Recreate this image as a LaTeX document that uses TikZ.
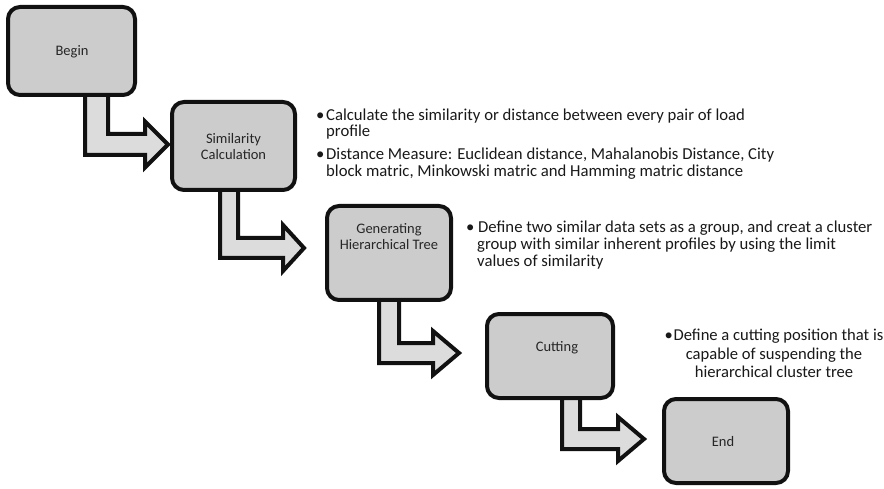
\documentclass[tikz,border=0pt]{standalone}
\usepackage{fontspec}
\setmainfont{Carlito}
\definecolor{boxgray}{HTML}{CCCCCC}
\definecolor{arrgray}{HTML}{DCDCDC}
\definecolor{ink}{HTML}{111111}
\begin{document}
\begin{tikzpicture}[x=1pt,y=-1pt,
  box/.style={draw=ink, line width=4pt, rounded corners=12pt, fill=boxgray, inner sep=0pt},
  arr/.style={draw=ink, line width=4pt, fill=arrgray, line join=miter},
  boxtxt/.style={font=\fontsize{14.5}{16}\selectfont, align=center, inner sep=0pt, text=black!85},
  bul/.style={align=left, inner sep=0pt, anchor=base west, text=black!90},
  bulc/.style={align=center, inner sep=0pt, anchor=base, text=black!90}]
\useasboundingbox (0,0) rectangle (884,489);
\fill[white] (0,0) rectangle (884,489);
% bent arrows
\draw[arr] (85,90) -- (85,155) -- (145,155) -- (145,167.5) -- (168,144.5) -- (145,121.5) -- (145,134) -- (108,134) -- (108,90) -- cycle;
\draw[arr] (220,185) -- (220,258) -- (283,258) -- (283,271) -- (304,248) -- (283,225) -- (283,238) -- (238,238) -- (238,185) -- cycle;
\draw[arr] (379,295) -- (379,363) -- (433,363) -- (433,375) -- (459,353) -- (433,331) -- (433,343) -- (399,343) -- (399,295) -- cycle;
\draw[arr] (562,393) -- (562,449) -- (618,449) -- (618,461) -- (644,439) -- (618,417) -- (618,429) -- (580,429) -- (580,393) -- cycle;
% boxes
\node[box, minimum width=127pt, minimum height=88pt] (begin) at (71.5,51) {};
\node[box, minimum width=123pt, minimum height=88pt] (sim) at (233.5,146) {};
\node[box, minimum width=124pt, minimum height=94pt] (gen) at (389,253) {};
\node[box, minimum width=126pt, minimum height=84pt] (cut) at (550,356) {};
\node[box, minimum width=124pt, minimum height=84pt] (end) at (726,441) {};
% box texts
\node[boxtxt] (begintxt) at (72,52) {Begin};
\node[boxtxt] (simtxt) at (233.5,146.5) {Similarity\\Calculation};
\node[boxtxt] (gentxt) at (389,236.5) {Generating\\Hierarchical Tree};
\node[boxtxt] (cuttxt) at (557,348) {Cutting};
\node[boxtxt] (endtxt) at (723,442) {End};
% bullet texts (anchor = baseline of last line)
\node[bul, font=\fontsize{16.7}{16.5}\selectfont] (t1a) at (316,137) {\makebox[10pt][l]{•}Calculate the similarity or distance between every pair of load\\\hspace*{10pt}profile};
\node[bul, font=\fontsize{16.7}{16.5}\selectfont] (t1b) at (316,176.5) {\makebox[10pt][l]{•}Distance Measure: Euclidean distance, Mahalanobis Distance, City\\\hspace*{10pt}block matric, Minkowski matric and Hamming matric distance};
\node[bul, font=\fontsize{16.7}{17}\selectfont] (t2) at (466,266.5) {\makebox[12pt][l]{•}Define two similar data sets as a group, and creat a cluster\\\hspace*{11pt}group with similar inherent profiles by using the limit\\\hspace*{11pt}values of similarity};
\node[bulc, font=\fontsize{16.6}{18}\selectfont] (t3) at (774,377) {\makebox[9pt][l]{•}Define a cutting position that is\\capable of suspending the\\hierarchical cluster tree};
\end{tikzpicture}
\end{document}
